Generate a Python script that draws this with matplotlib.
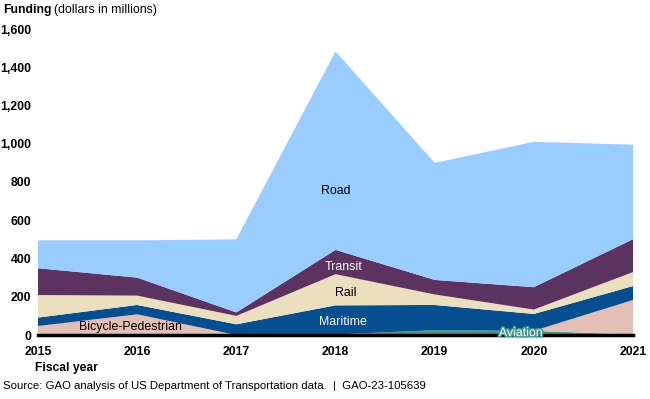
import matplotlib
matplotlib.use("Agg")
import matplotlib.pyplot as plt
import matplotlib.patheffects as pe

plt.rcParams['font.family'] = ['Liberation Sans', 'DejaVu Sans']

years = [2015, 2016, 2017, 2018, 2019, 2020, 2021]
aviation = [0, 0, 0, 3, 25, 22, 2]
bike_ped = [47, 108, 0, 0, 0, 0, 181]
maritime = [44, 49, 56, 152, 132, 88, 73]
rail = [118, 49, 44, 163, 55, 23, 73]
transit = [140, 94, 18, 127, 76, 117, 172]
road = [146, 195, 382, 1038, 612, 760, 494]

series_names = ["Aviation", "Bicycle-Pedestrian", "Maritime", "Rail", "Transit", "Road"]
colors = ["#3E9A8C", "#E3BFB6", "#054E8F", "#ECDFBD", "#5C3360", "#99CCFF"]
yticks = [0, 200, 400, 600, 800, 1000, 1200, 1400, 1600]
ytick_labels = ["0", "200", "400", "600", "800", "1,000", "1,200", "1,400", "1,600"]

fig = plt.figure(figsize=(6.5, 3.99), dpi=100)
ax = fig.add_axes([38/650, 64/399, (633-38)/650, (335-29)/399])

ax.stackplot(years, aviation, bike_ped, maritime, rail, transit, road,
             colors=colors, linewidth=0, edgecolor='none', labels=series_names)

ax.set_xlim(2015, 2021)
ax.set_ylim(0, 1600)
ax.set_yticks(yticks)
ax.set_yticklabels(ytick_labels, fontweight='bold', fontsize=8.8)
ax.set_xticks(years)
ax.set_xticklabels([str(y) for y in years], fontweight='bold', fontsize=8.8)
ax.tick_params(axis='both', length=0)
ax.tick_params(axis='y', pad=5)
ax.tick_params(axis='x', pad=8)
for s in ['top', 'right', 'left']:
    ax.spines[s].set_visible(False)
ax.spines['bottom'].set_linewidth(2.5)
ax.spines['bottom'].set_color('black')

lab_fs = 8.9
ax.text(2018, 754, "Road", ha='center', va='center', fontsize=lab_fs, color='black')
ax.text(2018.08, 356, "Transit", ha='center', va='center', fontsize=lab_fs, color='white')
ax.text(2018.1, 220, "Rail", ha='center', va='center', fontsize=lab_fs, color='black')
ax.text(2018.08, 68, "Maritime", ha='center', va='center', fontsize=lab_fs, color='white')
ax.text(2015.93, 40, "Bicycle-Pedestrian", ha='center', va='center', fontsize=lab_fs, color='black')
ax.text(2019.87, 10, "Aviation", ha='center', va='center', fontsize=lab_fs, color='white',
        path_effects=[pe.withStroke(linewidth=2, foreground='#3E9A8C')])

t = fig.text(3/650, 1 - 10/399, "Funding", ha='left', va='center', fontsize=8.8, fontweight='bold')
fig.canvas.draw()
bb = t.get_window_extent()
fig.text((bb.x1 + 3) / 650, 1 - 10/399, "(dollars in millions)", ha='left', va='center', fontsize=8.8)

fig.text(35/650, 1 - 368/399, "Fiscal year", ha='left', va='center', fontsize=8.7, fontweight='bold')
fig.text(3/650, 1 - 386/399, "Source: GAO analysis of US Department of Transportation data.  |  GAO-23-105639",
         ha='left', va='center', fontsize=8.2)

fig.savefig("out.png", dpi=100)
